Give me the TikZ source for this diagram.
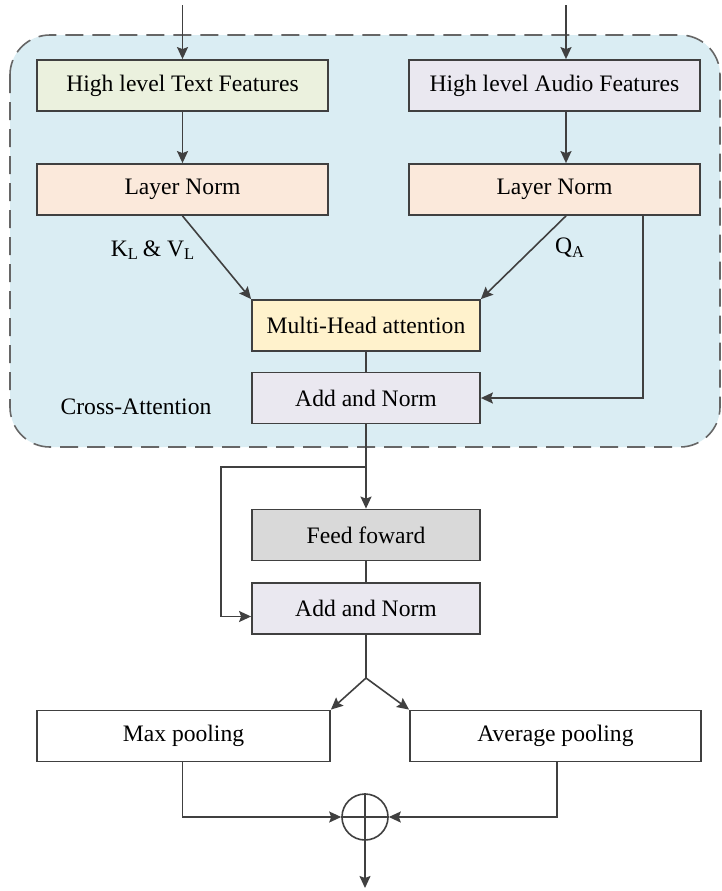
\documentclass[tikz,border=0pt]{standalone}
\usepackage{fontspec}
\setmainfont{Liberation Serif}
\usetikzlibrary{arrows.meta}
\definecolor{crossbg}{RGB}{218,237,243}
\definecolor{textfill}{RGB}{235,241,222}
\definecolor{audiofill}{RGB}{234,232,240}
\definecolor{normfill}{RGB}{251,233,219}
\definecolor{attnfill}{RGB}{255,242,204}
\definecolor{fffill}{RGB}{217,217,217}
\definecolor{edge}{RGB}{64,64,64}
\begin{document}
\begin{tikzpicture}[x=0.5pt,y=-0.5pt,
  every node/.style={font=\fontsize{11.8}{13}\selectfont},
  block/.style={draw=edge,line width=0.9pt,inner sep=0pt,minimum height=25.5pt},
  wide/.style={block,minimum width=145.5pt},
  mid/.style={block,minimum width=114pt},
  link/.style={draw=edge,line width=0.8pt},
  arr/.style={link,-{Stealth[length=6pt,width=5.5pt,inset=1pt]}}]
  \useasboundingbox (0,0) rectangle (722,891);
  \draw[fill=crossbg,draw=black!60,line width=0.8pt,dash pattern=on 9pt off 4.5pt,rounded corners=20pt]
    (10,35) rectangle (720,447);
  \node[wide,fill=textfill] (txt) at (182.5,85.5) {High level Text Features};
  \node[wide,fill=audiofill] (aud) at (554.5,85.5) {High level Audio Features};
  \node[wide,fill=normfill] (lnt) at (182.5,189.5) {Layer Norm};
  \node[wide,fill=normfill] (lna) at (554.5,189.5) {Layer Norm};
  \node[mid,fill=attnfill] (mha) at (366,325.5) {Multi-Head attention};
  \node[mid,fill=audiofill] (an1) at (366,398) {Add and Norm};
  \node (cross) at (136,407) {Cross-Attention};
  \node (kv) at (153,250) {K\textsubscript{L}\,\& V\textsubscript{L}};
  \node (qa) at (570,248) {Q\textsubscript{A}};
  \node[mid,fill=fffill] (ff) at (366,535) {Feed foward};
  \node[mid,fill=audiofill] (an2) at (366,608.5) {Add and Norm};
  \node[block,minimum width=146.5pt,fill=white] (maxp) at (183.5,736) {Max pooling};
  \node[wide,fill=white] (avgp) at (555.5,736) {Average pooling};
  \node[circle,draw=edge,line width=0.8pt,minimum size=23pt,inner sep=0pt] (plus) at (365,817) {};
  \coordinate (tin) at (182.5,5);
  \coordinate (ain) at (566,5);
  \coordinate (res) at (643,215);
  \coordinate (split) at (366,467);
  \coordinate (skip) at (221,467);
  \coordinate (fork) at (366,678);
  \coordinate (out) at (365,888);
  \draw[arr] (tin) -- (txt.north);
  \draw[arr] (ain) -- (ain |- aud.north);
  \draw[arr] (txt.south) -- (lnt.north);
  \draw[arr] (aud.south -| ain) -- (lna.north -| ain);
  \draw[arr] (lnt.south) -- (mha.north west);
  \draw[arr] (lna.south -| ain) -- (mha.north east);
  \draw[arr] (res) |- (an1.east);
  \draw[link] (mha.south) -- (an1.north);
  \draw[arr] (an1.south) -- (ff.north);
  \draw[arr] (split) -- (skip) |- ([yshift=-4pt]an2.west);
  \draw[link] (ff.south) -- (an2.north);
  \draw[link] (an2.south) -- (fork);
  \draw[arr] (fork) -- (maxp.north east);
  \draw[arr] (fork) -- (avgp.north west);
  \draw[link] (plus.north) -- (plus.south) (plus.west) -- (plus.east);
  \draw[arr] ([xshift=-0.5pt]maxp.south) |- (plus.west);
  \draw[arr] ([xshift=0.75pt]avgp.south) |- (plus.east);
  \draw[arr] (plus.south) -- (out);
\end{tikzpicture}
\end{document}
